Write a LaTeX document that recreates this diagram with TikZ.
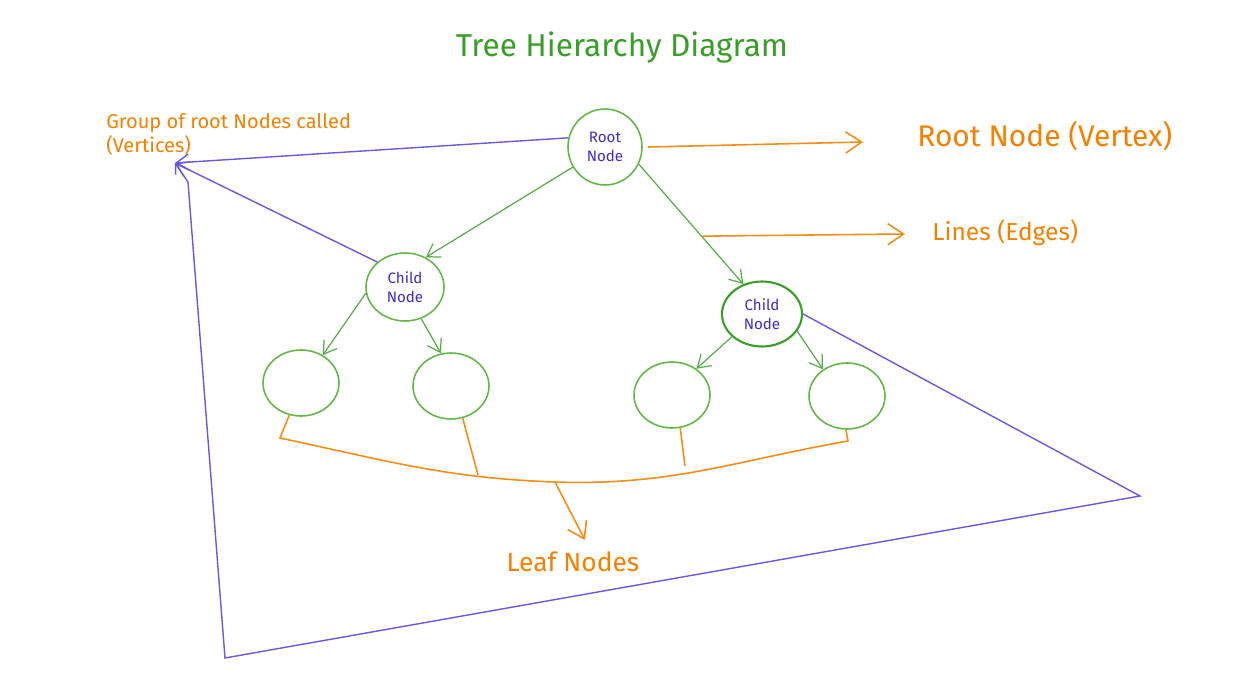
\documentclass[tikz,border=0pt]{standalone}
\usepackage{fontspec}
\setmainfont{Fira Sans}
\usetikzlibrary{arrows.meta,shapes.geometric}

\definecolor{treegreen}{RGB}{56,158,38}
\definecolor{ringgreen}{RGB}{98,184,70}
\definecolor{noteorange}{RGB}{247,140,20}
\definecolor{textorange}{RGB}{245,128,0}
\definecolor{linkviolet}{RGB}{104,90,222}
\definecolor{textviolet}{RGB}{64,42,200}

\tikzset{
  ring/.style={draw=ringgreen,ellipse,line width=0.9pt,inner sep=0pt,
    font=\fontsize{8.6}{11}\selectfont,text=textviolet,align=center},
  leaf/.style={ring,minimum width=1.52cm,minimum height=1.32cm},
  branch/.style={draw=treegreen!85,line width=0.7pt,-{Straight Barb[length=7pt,width=9pt]}},
  link/.style={draw=linkviolet,line width=0.8pt},
  note/.style={draw=noteorange,line width=0.9pt},
  noteline/.style={note,-{Straight Barb[length=9pt,width=12pt]}},
  label/.style={text=textorange,inner sep=0pt}
}

\begin{document}
\begin{tikzpicture}[x=0.02cm,y=-0.02cm]
      \useasboundingbox (0,0) rectangle (1241,675);

      % title
      \node[text=treegreen,font=\fontsize{18}{21}\selectfont] (title) at (622,48) {Tree Hierarchy Diagram};

      % nodes of the tree
      \node[ring,minimum width=1.48cm,minimum height=1.52cm] (root) at (605,147) {Root\\Node};
      \node[ring,minimum width=1.56cm,minimum height=1.36cm] (lchild) at (405,287) {Child\\Node};
      \node[ring,draw=treegreen,line width=1.2pt,minimum width=1.6cm,minimum height=1.3cm] (rchild) at (762,314) {Child\\Node};
      \node[leaf] (leafA) at (301,383) {};
      \node[leaf] (leafB) at (451,386) {};
      \node[leaf] (leafC) at (672,395) {};
      \node[leaf] (leafD) at (847,396) {};

      % edges
      \draw[branch] (root.212) -- (lchild.55);
      \draw[branch] (root.333) -- coordinate[pos=0.6] (edgemid) (rchild.122);
      \draw[branch] (lchild.189) -- (leafA.52);
      \draw[branch] (lchild.297) -- (leafB.107);
      \draw[branch] (rchild.217) -- (leafC.47);
      \draw[branch] (rchild.334) -- (leafD.132);

      % labels
      \node[label,anchor=west,font=\fontsize{17}{20}\selectfont] (rootlbl) at (917,136) {Root Node (Vertex)};
      \node[label,anchor=west,font=\fontsize{14}{17}\selectfont] (edgelbl) at (932,233) {Lines (Edges)};
      \node[label,font=\fontsize{15}{18}\selectfont] (leaflbl) at (573,562) {Leaf Nodes};
      \node[label,anchor=north west,align=left,font=\fontsize{11.4}{13.5}\selectfont] (grouplbl) at (106,113)
        {Group of root Nodes called\\(Vertices)};

      \coordinate (rootend) at (863,142);
      \coordinate (edgeend) at (905,234);
      \draw[noteline] ([xshift=3pt]root.east) -- (rootend);
      \draw[noteline] (edgemid) -- (edgeend);

      % bracket under the leaves
      \coordinate (bl) at (280,438);
      \coordinate (bot) at (555,482);
      \coordinate (br) at (848,441);
      \coordinate (leafend) at (585,540);
      \draw[note] (leafA.250) -- (bl) to[out=-12,in=178] (bot) to[out=-2,in=-170] (br) -- (leafD.268);
      \draw[note] (leafB.290) -- (478,475);
      \draw[note] (leafC.284) -- (685,466);
      \draw[noteline] (bot) -- (leafend);

      % group of vertices
      \coordinate (vertex) at (175,163);
      \coordinate (farright) at (1140,496);
      \coordinate (farleft) at (225,658);
      \coordinate (upleft) at (188,182);
      \draw[link,-{Straight Barb[length=7pt,width=9pt]}] (root.166) -- (vertex);
      \draw[link,-{Straight Barb[length=7pt,width=9pt]}] (lchild.138) -- (vertex);
      \draw[link,-{Straight Barb[length=5pt,width=7pt]}] (rchild.east) -- (farright) -- (farleft) -- (upleft) -- (vertex);

    \end{tikzpicture}
\end{document}
